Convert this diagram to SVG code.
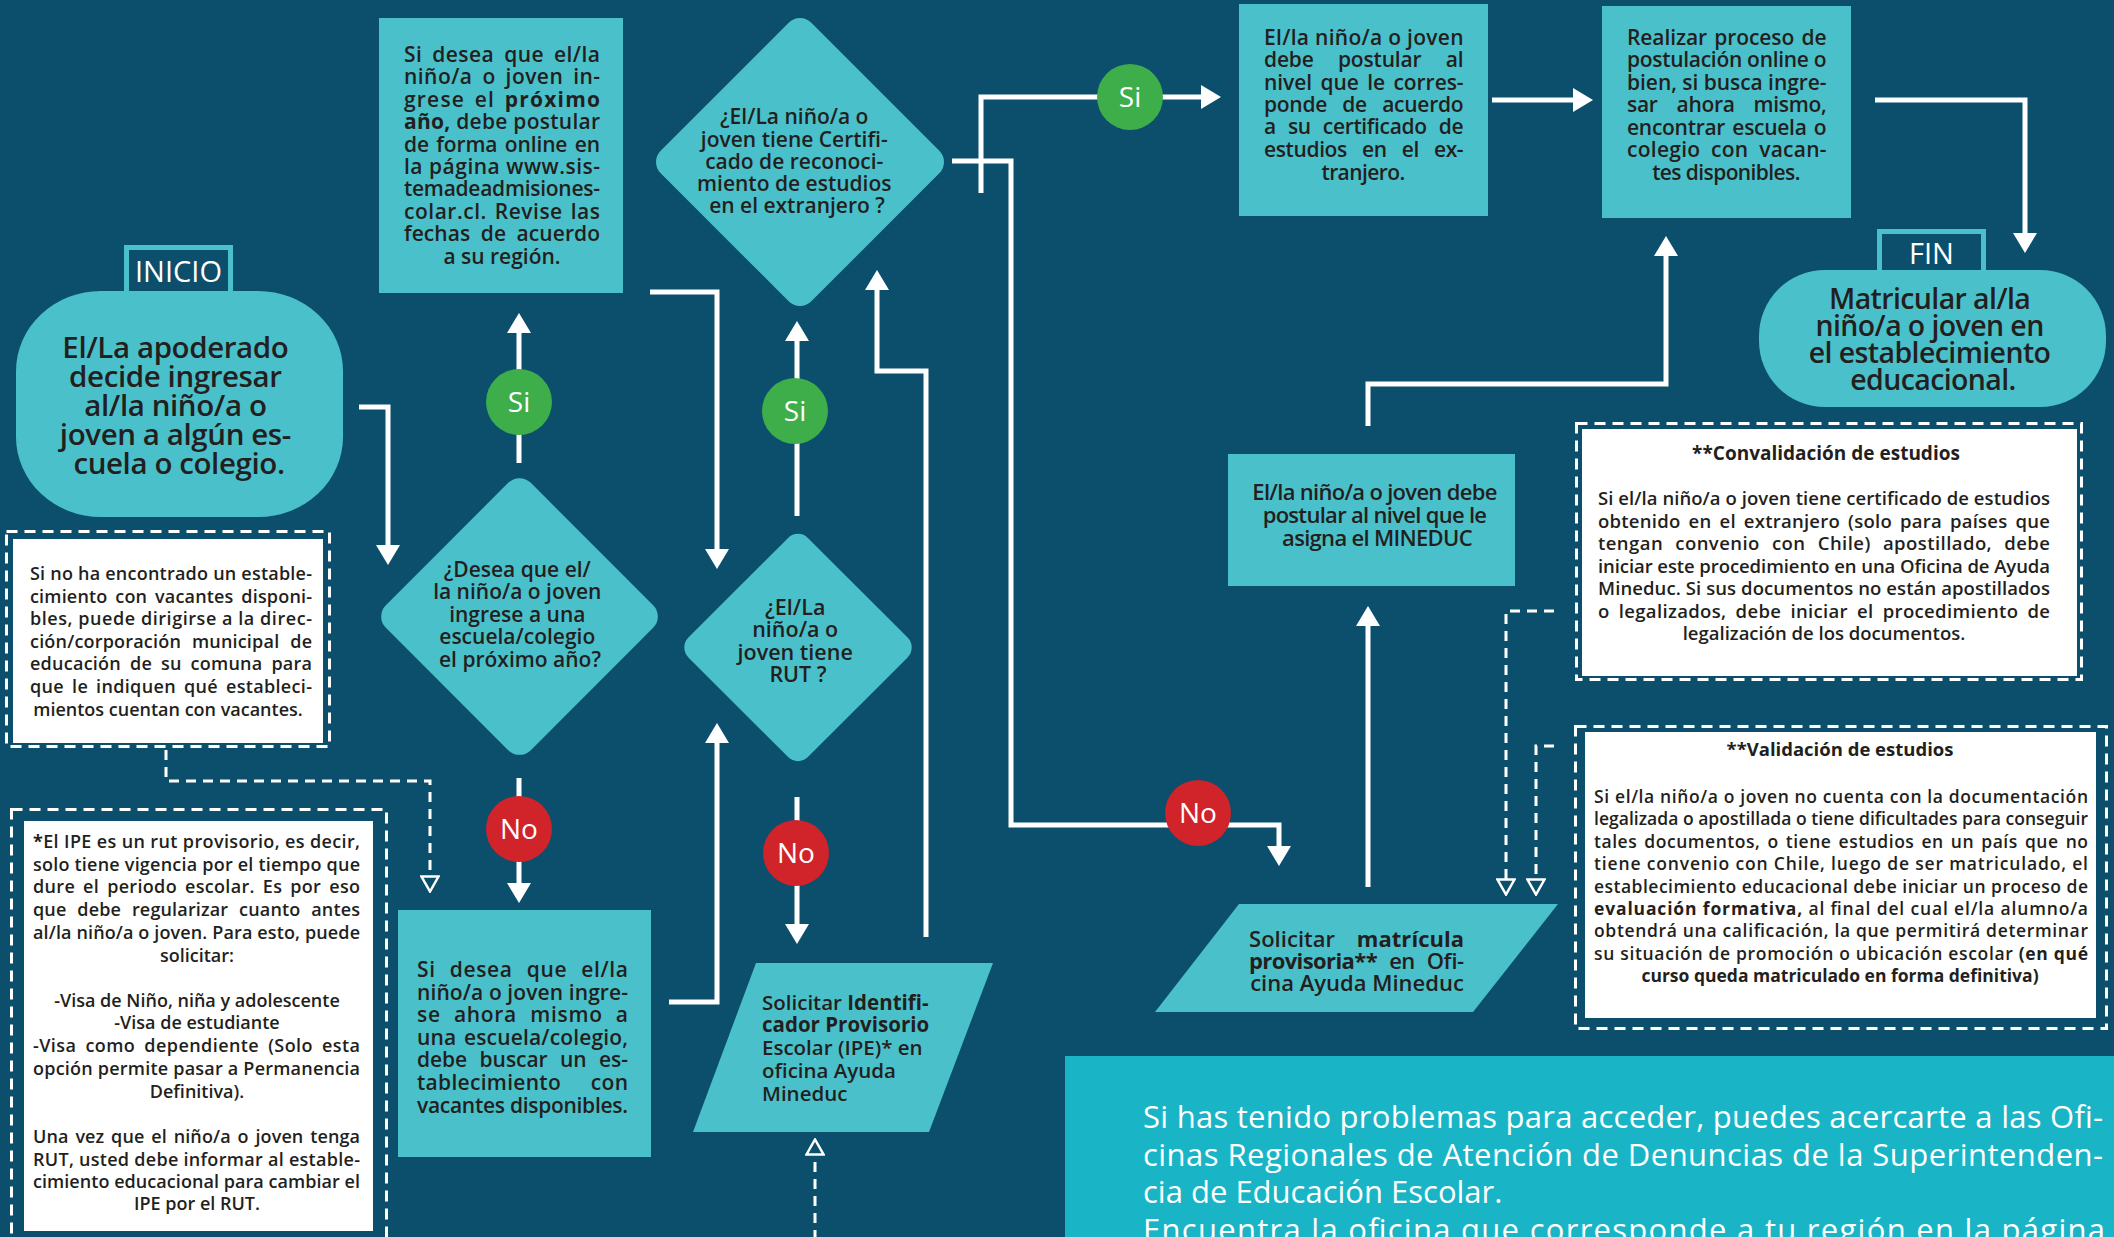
<svg xmlns="http://www.w3.org/2000/svg" width="2114" height="1237" viewBox="0 0 2114 1237">
<defs>
<style>
.t{font-family:"Open Sans","DejaVu Sans",sans-serif;fill:#231f20;font-weight:600}
.n{font-family:"Open Sans","DejaVu Sans",sans-serif;fill:#231f20;font-weight:600}
.w{font-family:"Open Sans","DejaVu Sans",sans-serif;fill:#ffffff}
.b{font-weight:bold}
.c{text-anchor:middle}
.node{fill:#4ac1ca}
.note{fill:#ffffff}
.dbox{fill:none;stroke:#ffffff;stroke-width:3;stroke-dasharray:11 7}
.lbl{fill:#0c4f6d;stroke:#4ac1ca;stroke-width:5}
.con{fill:none;stroke:#ffffff;stroke-width:5;marker-end:url(#ah)}
.dcon{fill:none;stroke:#ffffff;stroke-width:3;stroke-dasharray:10 7;marker-end:url(#oh)}
.si{fill:#3dae4a}
.no{fill:#d1232a}
</style>
<marker id="ah" viewBox="0 0 20 24" refX="12" refY="12" markerWidth="20" markerHeight="24" markerUnits="userSpaceOnUse" orient="auto">
<path d="M0,0 L20,12 L0,24 z" fill="#ffffff"/>
</marker>
<marker id="oh" viewBox="0 0 18 20" refX="1" refY="10" markerWidth="18" markerHeight="20" markerUnits="userSpaceOnUse" orient="auto">
<path d="M1.5,1.5 L16.5,10 L1.5,18.5 z" fill="#0c4f6d" stroke="#ffffff" stroke-width="2.5"/>
</marker>
</defs>
<rect x="0" y="0" width="2114" height="1237" fill="#0c4f6d"/>

<g id="connectors">
<path class="con" d="M359,407 H388 V557"/>
<path class="con" d="M519,463 V321"/>
<path class="con" d="M519,778 V895"/>
<path class="con" d="M650,292 H717 V561"/>
<path class="con" d="M669,1002 H717 V731"/>
<path class="con" d="M797,516 V329"/>
<path class="con" d="M797,797 V936"/>
<path class="con" d="M926,937 V371 H877 V278"/>
<path class="con" d="M952,161 H1011 V825 H1279 V858"/>
<path class="con" d="M981,193 V97 H1213"/>
<path class="con" d="M1492,100 H1585"/>
<path class="con" d="M1875,100 H2025 V245"/>
<path class="con" d="M1368,887 V614"/>
<path class="con" d="M1368,426 V384 H1666 V244"/>
<path class="dcon" d="M166,750 V781 H430 V876"/>
<path class="dcon" d="M815,1240 V1155"/>
<path class="dcon" d="M1554,611 H1506 V879"/>
<path class="dcon" d="M1554,746 H1536 V879"/>
<circle class="si" cx="519" cy="402" r="33"/>
<text class="w c" x="519" y="412" font-size="28">Si</text>
<circle class="no" cx="519" cy="829" r="33"/>
<text class="w c" x="519" y="839" font-size="28">No</text>
<circle class="si" cx="795" cy="411" r="33"/>
<text class="w c" x="795" y="421" font-size="28">Si</text>
<circle class="no" cx="796" cy="853" r="33"/>
<text class="w c" x="796" y="863" font-size="28">No</text>
<circle class="si" cx="1130" cy="97" r="33"/>
<text class="w c" x="1130" y="107" font-size="28">Si</text>
<circle class="no" cx="1198" cy="813" r="33"/>
<text class="w c" x="1198" y="823" font-size="28">No</text>
</g>

<g id="inicio">
<rect class="lbl" x="126.5" y="247.5" width="104" height="48"/>
<text class="w c" x="178.5" y="282" font-size="29">INICIO</text>
<rect class="node" x="16" y="291" width="327" height="226" rx="85" ry="80"/>
<text class="t c" font-size="29.5" letter-spacing="-0.4">
<tspan x="179" y="358">El/La apoderado</tspan>
<tspan x="179" y="387">decide ingresar</tspan>
<tspan x="179" y="416">al/la niño/a o</tspan>
<tspan x="179" y="445">joven a algún es-</tspan>
<tspan x="179" y="474">cuela o colegio.</tspan>
</text>
</g>

<g id="nota-vacantes">
<rect class="dbox" x="6.5" y="531.5" width="323" height="215"/>
<rect class="note" x="13" y="539" width="310" height="204"/>
<g class="n" font-size="18">
<text x="30" y="580" textLength="282" lengthAdjust="spacing">Si no ha encontrado un estable-</text>
<text x="30" y="603" textLength="282" lengthAdjust="spacing" word-spacing="3">cimiento con vacantes disponi-</text>
<text x="30" y="625" textLength="282" lengthAdjust="spacing">bles, puede dirigirse a la direc-</text>
<text x="30" y="648" textLength="282" lengthAdjust="spacing" word-spacing="6">ción/corporación municipal de</text>
<text x="30" y="670" textLength="282" lengthAdjust="spacing" word-spacing="4">educación de su comuna para</text>
<text x="30" y="693" textLength="282" lengthAdjust="spacing" word-spacing="3">que le indiquen qué estableci-</text>
<text class="c" x="168" y="716">mientos cuentan con vacantes.</text>
</g>
</g>

<g id="nota-ipe">
<rect class="dbox" x="11.5" y="809.5" width="375" height="440"/>
<rect class="note" x="24" y="821" width="349" height="410"/>
<g class="n" font-size="18">
<text x="33" y="848" textLength="327" lengthAdjust="spacing"><tspan class="b">*</tspan>El IPE es un rut provisorio, es decir,</text>
<text x="33" y="871" textLength="327" lengthAdjust="spacing">solo tiene vigencia por el tiempo que</text>
<text x="33" y="893" textLength="327" lengthAdjust="spacing" word-spacing="3">dure el periodo escolar. Es por eso</text>
<text x="33" y="916" textLength="327" lengthAdjust="spacing" word-spacing="6">que debe regularizar cuanto antes</text>
<text x="33" y="939" textLength="327" lengthAdjust="spacing">al/la niño/a o joven. Para esto, puede</text>
<text class="c" x="197" y="962">solicitar:</text>
<text class="c" x="197" y="1007">-Visa de Niño, niña y adolescente</text>
<text class="c" x="197" y="1029">-Visa de estudiante</text>
<text x="33" y="1052" textLength="327" lengthAdjust="spacing" word-spacing="4">-Visa como dependiente (Solo esta</text>
<text x="33" y="1075" textLength="327" lengthAdjust="spacing">opción permite pasar a Permanencia</text>
<text class="c" x="197" y="1098">Definitiva).</text>
<text x="33" y="1143" textLength="327" lengthAdjust="spacing" word-spacing="2">Una vez que el niño/a o joven tenga</text>
<text x="33" y="1166" textLength="327" lengthAdjust="spacing">RUT, usted debe informar al estable-</text>
<text x="33" y="1188" textLength="327" lengthAdjust="spacing">cimiento educacional para cambiar el</text>
<text class="c" x="197" y="1210">IPE por el RUT.</text>
</g>
</g>

<g id="proximo-anio">
<rect class="node" x="379" y="18" width="244" height="275"/>
<g class="t" font-size="21">
<text x="404" y="62" textLength="196" lengthAdjust="spacing" word-spacing="4">Si desea que el/la</text>
<text x="404" y="84" textLength="196" lengthAdjust="spacing" word-spacing="4">niño/a o joven in-</text>
<text x="404" y="107" textLength="196" lengthAdjust="spacing" word-spacing="3">grese el <tspan class="b">próximo</tspan></text>
<text x="404" y="129" textLength="196" lengthAdjust="spacing"><tspan class="b">año,</tspan> debe postular</text>
<text x="404" y="152" textLength="196" lengthAdjust="spacing" word-spacing="2">de forma online en</text>
<text x="404" y="174" textLength="196" lengthAdjust="spacing">la página www.sis-</text>
<text x="404" y="196" textLength="196" lengthAdjust="spacing">temadeadmisiones-</text>
<text x="404" y="219" textLength="196" lengthAdjust="spacing" word-spacing="2">colar.cl. Revise las</text>
<text x="404" y="241" textLength="196" lengthAdjust="spacing" word-spacing="5">fechas de acuerdo</text>
<text class="c" x="502" y="264">a su región.</text>
</g>
</g>

<g id="decision-proximo">
<rect class="node" x="-102.5" y="-102.5" width="205" height="205" rx="16" transform="translate(519.5,616.5) rotate(45)"/>
<text class="t c" font-size="21">
<tspan x="520" y="577">¿Desea que el/</tspan>
<tspan x="520" y="599">la niño/a o joven</tspan>
<tspan x="520" y="622">ingrese a una</tspan>
<tspan x="520" y="644">escuela/colegio</tspan>
<tspan x="520" y="667">el próximo año?</tspan>
</text>
</g>

<g id="ahora-mismo">
<rect class="node" x="398" y="910" width="253" height="247"/>
<g class="t" font-size="21">
<text x="417" y="977" textLength="211" lengthAdjust="spacing" word-spacing="8">Si desea que el/la</text>
<text x="417" y="1000" textLength="211" lengthAdjust="spacing">niño/a o joven ingre-</text>
<text x="417" y="1022" textLength="211" lengthAdjust="spacing" word-spacing="7">se ahora mismo a</text>
<text x="417" y="1045" textLength="211" lengthAdjust="spacing" word-spacing="2">una escuela/colegio,</text>
<text x="417" y="1067" textLength="211" lengthAdjust="spacing" word-spacing="7">debe buscar un es-</text>
<text x="417" y="1090" textLength="211" lengthAdjust="spacing" word-spacing="24">tablecimiento con</text>
<text x="417" y="1113" textLength="211" lengthAdjust="spacing">vacantes disponibles.</text>
</g>
</g>

<g id="decision-rut">
<rect class="node" x="-84.5" y="-84.5" width="169" height="169" rx="14" transform="translate(798,647.5) rotate(45)"/>
<text class="t c" font-size="21.5">
<tspan x="798" y="615">¿El/La</tspan>
<tspan x="798" y="637">niño/a o</tspan>
<tspan x="798" y="660">joven tiene</tspan>
<tspan x="798" y="682">RUT ?</tspan>
</text>
</g>

<g id="decision-certificado">
<rect class="node" x="-106.5" y="-106.5" width="213" height="213" rx="16" transform="translate(800,162) rotate(45)"/>
<text class="t c" font-size="21">
<tspan x="797" y="124">¿El/La niño/a o</tspan>
<tspan x="797" y="147">joven tiene Certifi-</tspan>
<tspan x="797" y="169">cado de reconoci-</tspan>
<tspan x="797" y="191">miento de estudios</tspan>
<tspan x="797" y="213">en el extranjero ?</tspan>
</text>
</g>

<g id="solicitar-ipe">
<polygon class="node" points="756,963 993,963 929,1132 693,1132"/>
<text class="t" font-size="20.5">
<tspan x="762" y="1010">Solicitar <tspan class="b">Identifi-</tspan></tspan>
<tspan x="762" y="1032" class="b">cador Provisorio</tspan>
<tspan x="762" y="1055">Escolar (IPE)* en</tspan>
<tspan x="762" y="1078">oficina Ayuda</tspan>
<tspan x="762" y="1101">Mineduc</tspan>
</text>
</g>

<g id="postular-certificado">
<rect class="node" x="1239" y="4" width="249" height="212"/>
<g class="t" font-size="21" letter-spacing="-0.6">
<text x="1264" y="45" textLength="199" lengthAdjust="spacing">El/la niño/a o joven</text>
<text x="1264" y="67" textLength="199" lengthAdjust="spacing" word-spacing="19">debe postular al</text>
<text x="1264" y="90" textLength="199" lengthAdjust="spacing" word-spacing="3">nivel que le corres-</text>
<text x="1264" y="112" textLength="199" lengthAdjust="spacing" word-spacing="10">ponde de acuerdo</text>
<text x="1264" y="134" textLength="199" lengthAdjust="spacing" word-spacing="7">a su certificado de</text>
<text x="1264" y="157" textLength="199" lengthAdjust="spacing" word-spacing="10">estudios en el ex-</text>
<text class="c" x="1363" y="180">tranjero.</text>
</g>
</g>

<g id="realizar-postulacion">
<rect class="node" x="1602" y="6" width="249" height="212"/>
<g class="t" font-size="21" letter-spacing="-0.6">
<text x="1627" y="45" textLength="199" lengthAdjust="spacing" word-spacing="2">Realizar proceso de</text>
<text x="1627" y="67" textLength="199" lengthAdjust="spacing">postulación online o</text>
<text x="1627" y="90" textLength="199" lengthAdjust="spacing">bien, si busca ingre-</text>
<text x="1627" y="112" textLength="199" lengthAdjust="spacing" word-spacing="14">sar ahora mismo,</text>
<text x="1627" y="135" textLength="199" lengthAdjust="spacing" word-spacing="2">encontrar escuela o</text>
<text x="1627" y="157" textLength="199" lengthAdjust="spacing" word-spacing="5">colegio con vacan-</text>
<text class="c" x="1726" y="180">tes disponibles.</text>
</g>
</g>

<g id="fin">
<rect class="lbl" x="1879.5" y="231.5" width="104" height="48"/>
<text class="w c" x="1931.5" y="264" font-size="29">FIN</text>
<rect class="node" x="1759" y="270" width="347" height="137" rx="66"/>
<text class="t c" font-size="28.5" letter-spacing="-0.6">
<tspan x="1933" y="309">Matricular al/la</tspan>
<tspan x="1933" y="336">niño/a o joven en</tspan>
<tspan x="1933" y="363">el establecimiento</tspan>
<tspan x="1933" y="390">educacional.</tspan>
</text>
</g>

<g id="postular-mineduc">
<rect class="node" x="1228" y="454" width="287" height="132"/>
<text class="t c" font-size="22" letter-spacing="-0.7">
<tspan x="1377" y="500">El/la niño/a o joven debe</tspan>
<tspan x="1377" y="523">postular al nivel que le</tspan>
<tspan x="1377" y="546">asigna el MINEDUC</tspan>
</text>
</g>

<g id="solicitar-matricula">
<polygon class="node" points="1239,904 1558,904 1473,1012 1155,1012"/>
<g class="t" font-size="22">
<text x="1249" y="947" textLength="215" lengthAdjust="spacing" word-spacing="16">Solicitar <tspan class="b">matrícula</tspan></text>
<text x="1249" y="969" textLength="215" lengthAdjust="spacing" word-spacing="7"><tspan class="b">provisoria**</tspan> en Ofi-</text>
<text class="c" x="1357" y="991">cina Ayuda Mineduc</text>
</g>
</g>

<g id="nota-convalidacion">
<rect class="dbox" x="1576.5" y="423.5" width="505" height="256"/>
<rect class="note" x="1582" y="429" width="495" height="247"/>
<text class="n c b" x="1826" y="460" font-size="19">**Convalidación de estudios</text>
<g class="n" font-size="18.5">
<text x="1598" y="505" textLength="452" lengthAdjust="spacing">Si el/la niño/a o joven tiene certificado de estudios</text>
<text x="1598" y="528" textLength="452" lengthAdjust="spacing" word-spacing="3">obtenido en el extranjero (solo para países que</text>
<text x="1598" y="550" textLength="452" lengthAdjust="spacing" word-spacing="7">tengan convenio con Chile) apostillado, debe</text>
<text x="1598" y="573" textLength="452" lengthAdjust="spacing">iniciar este procedimiento en una Oficina de Ayuda</text>
<text x="1598" y="595" textLength="452" lengthAdjust="spacing">Mineduc. Si sus documentos no están apostillados</text>
<text x="1598" y="618" textLength="452" lengthAdjust="spacing" word-spacing="4">o legalizados, debe iniciar el procedimiento de</text>
<text class="c" x="1824" y="640">legalización de los documentos.</text>
</g>
</g>

<g id="nota-validacion">
<rect class="dbox" x="1575.5" y="726.5" width="531" height="302"/>
<rect class="note" x="1585" y="732" width="511" height="286"/>
<text class="n c b" x="1840" y="756" font-size="18.5">**Validación de estudios</text>
<g class="n" font-size="17.5">
<text x="1594" y="803" textLength="494" lengthAdjust="spacing">Si el/la niño/a o joven no cuenta con la documentación</text>
<text x="1594" y="825" textLength="494" lengthAdjust="spacing">legalizada o apostillada o tiene dificultades para conseguir</text>
<text x="1594" y="848" textLength="494" lengthAdjust="spacing" word-spacing="2">tales documentos, o tiene estudios en un país que no</text>
<text x="1594" y="870" textLength="494" lengthAdjust="spacing">tiene convenio con Chile, luego de ser matriculado, el</text>
<text x="1594" y="893" textLength="494" lengthAdjust="spacing">establecimiento educacional debe iniciar un proceso de</text>
<text x="1594" y="915" textLength="494" lengthAdjust="spacing"><tspan class="b">evaluación formativa,</tspan> al final del cual el/la alumno/a</text>
<text x="1594" y="937" textLength="494" lengthAdjust="spacing">obtendrá una calificación, la que permitirá determinar</text>
<text x="1594" y="960" textLength="494" lengthAdjust="spacing">su situación de promoción o ubicación escolar <tspan class="b">(en qué</tspan></text>
<text class="c b" x="1840" y="982">curso queda matriculado en forma definitiva)</text>
</g>
</g>

<g id="banner">
<rect x="1065" y="1056" width="1049" height="185" fill="#19b5c6"/>
<g class="w" font-size="31">
<text x="1143" y="1128" textLength="960" lengthAdjust="spacing">Si has tenido problemas para acceder, puedes acercarte a las Ofi-</text>
<text x="1143" y="1166" textLength="960" lengthAdjust="spacing">cinas Regionales de Atención de Denuncias de la Superintenden-</text>
<text x="1143" y="1203">cia de Educación Escolar.</text>
<text x="1143" y="1241" textLength="962" lengthAdjust="spacing">Encuentra la oficina que corresponde a tu región en la página</text>
</g>
</g>
</svg>
